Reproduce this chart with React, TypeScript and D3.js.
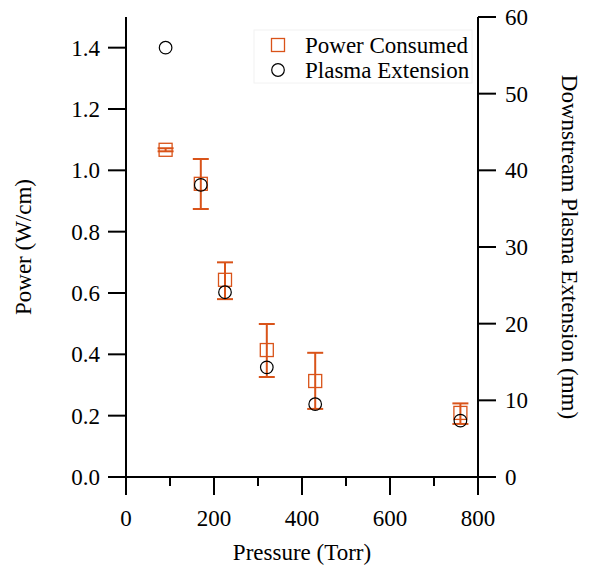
import React from "react";
import * as d3 from "d3";

const pressure = [90, 170, 225, 320, 430, 760];
const power = [1.067, 0.956, 0.643, 0.414, 0.313, 0.209];
const powerHi = [1.072, 1.037, 0.70, 0.499, 0.405, 0.24];
const powerLo = [1.062, 0.874, 0.58, 0.326, 0.222, 0.173];
const extension = [56.0, 38.1, 24.1, 14.3, 9.5, 7.35];

const xTicks = [0, 200, 400, 600, 800];
const xMinor = [100, 300, 500, 700];
const yLeftTicks = [0, 0.2, 0.4, 0.6, 0.8, 1.0, 1.2, 1.4];
const yRightTicks = [0, 10, 20, 30, 40, 50, 60];
const legendLabels = ["Power Consumed", "Plasma Extension"];

const ORANGE = "#D95319";
const FONT = "'Liberation Serif', 'Times New Roman', serif";

export default function App() {
  const W = 590, H = 569;
  const left = 126, right = 478, top = 17, bottom = 477;
  const x = d3.scaleLinear().domain([0, 800]).range([left, right]);
  const yL = d3.scaleLinear().domain([0, 1.5]).range([bottom, top]);
  const yR = d3.scaleLinear().domain([0, 60]).range([bottom, top]);
  const tick = 18;
  const fs = 23;

  return (
    <svg width={W} height={H} style={{ position: "absolute", left: 0, top: 0 }} fontFamily={FONT}>
      <rect width={W} height={H} fill="white" />
      {/* axes lines */}
      <line x1={left} x2={left} y1={top} y2={bottom + tick} stroke="black" strokeWidth={2} />
      <line x1={right} x2={right} y1={top} y2={bottom + tick} stroke="black" strokeWidth={2} />
      <line x1={left - tick} x2={right + tick} y1={bottom} y2={bottom} stroke="black" strokeWidth={2} />
      {/* x ticks */}
      {xTicks.map((t) => (
        <g key={"x" + t}>
          <line x1={x(t)} x2={x(t)} y1={bottom} y2={bottom + tick} stroke="black" strokeWidth={2} />
          <text x={x(t)} y={bottom + 49} fontSize={fs} textAnchor="middle">{t}</text>
        </g>
      ))}
      {xMinor.map((t) => (
        <line key={"xm" + t} x1={x(t)} x2={x(t)} y1={bottom} y2={bottom + 9} stroke="black" strokeWidth={2} />
      ))}
      {/* left ticks */}
      {yLeftTicks.map((t) => (
        <g key={"yl" + t}>
          <line x1={left - tick} x2={left} y1={yL(t)} y2={yL(t)} stroke="black" strokeWidth={2} />
          <text x={left - 26} y={yL(t)} dy="0.35em" fontSize={fs} textAnchor="end">{t.toFixed(1)}</text>
        </g>
      ))}
      {/* right ticks */}
      {yRightTicks.map((t) => (
        <g key={"yr" + t}>
          <line x1={right} x2={right + tick} y1={yR(t)} y2={yR(t)} stroke="black" strokeWidth={2} />
          <text x={right + 27} y={yR(t)} dy="0.35em" fontSize={fs} textAnchor="start">{t}</text>
        </g>
      ))}
      {/* axis labels */}
      <text x={(left + right) / 2} y={560} fontSize={fs} textAnchor="middle">Pressure (Torr)</text>
      <text transform={`translate(31,${(top + bottom) / 2}) rotate(-90)`} fontSize={fs} textAnchor="middle">Power (W/cm)</text>
      <text transform={`translate(562,${(top + bottom) / 2}) rotate(90)`} fontSize={fs} textAnchor="middle">Downstream Plasma Extension (mm)</text>
      {/* error bars */}
      {pressure.map((p, i) => (
        <g key={"e" + i} stroke={ORANGE} strokeWidth={2}>
          <line x1={x(p)} x2={x(p)} y1={yL(powerHi[i])} y2={yL(powerLo[i])} />
          <line x1={x(p) - 8} x2={x(p) + 8} y1={yL(powerHi[i])} y2={yL(powerHi[i])} />
          <line x1={x(p) - 8} x2={x(p) + 8} y1={yL(powerLo[i])} y2={yL(powerLo[i])} />
        </g>
      ))}
      {/* squares */}
      {pressure.map((p, i) => (
        <rect key={"s" + i} x={x(p) - 6.5} y={yL(power[i]) - 6.5} width={13} height={13} fill="none" stroke={ORANGE} strokeWidth={1.3} />
      ))}
      {/* circles */}
      {pressure.map((p, i) => (
        <circle key={"c" + i} cx={x(p)} cy={yR(extension[i])} r={6.3} fill="none" stroke="black" strokeWidth={1.2} />
      ))}
      {/* legend */}
      <g>
        <rect x={254} y={30} width={218} height={53} fill="white" stroke="#f2f2f2" />
        <rect x={278 - 6.5} y={45 - 6.5} width={13} height={13} fill="none" stroke={ORANGE} strokeWidth={1.3} />
        <text x={305} y={45} dy="0.35em" fontSize={fs}>{legendLabels[0]}</text>
        <circle cx={278} cy={70} r={6.3} fill="none" stroke="black" strokeWidth={1.2} />
        <text x={305} y={70} dy="0.35em" fontSize={fs}>{legendLabels[1]}</text>
      </g>
    </svg>
  );
}
